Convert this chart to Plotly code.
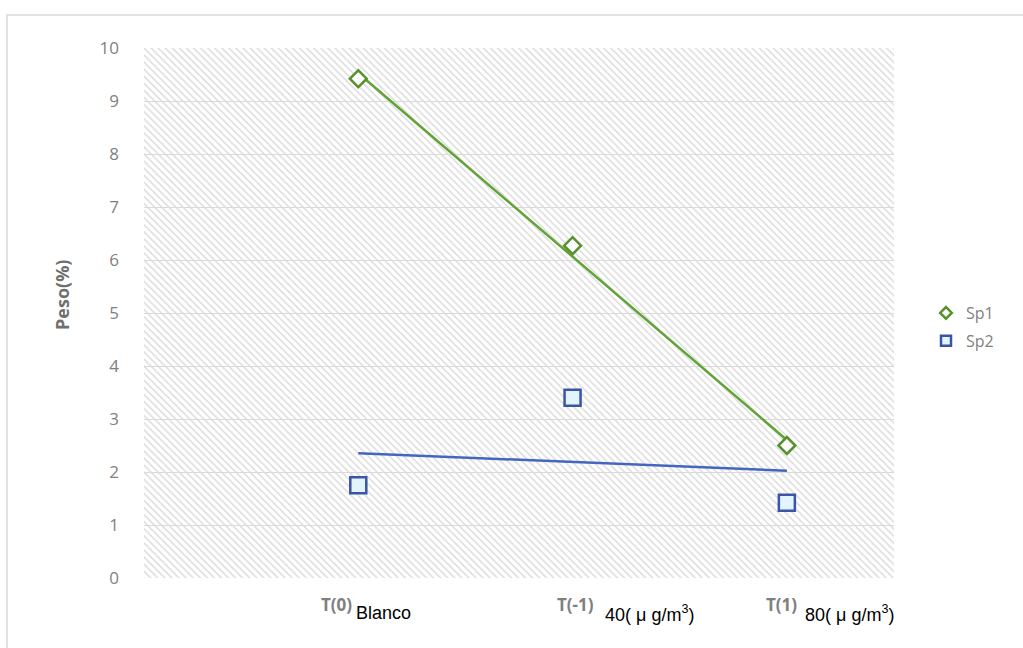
import numpy as np
import plotly.graph_objects as go

# Treatments and their doses
categories = ["T(0)", "T(-1)", "T(1)"]
dose_labels = ["Blanco", "40(\u00a0μ\u00a0g/m<sup>3</sup>)", "80(\u00a0μ\u00a0g/m<sup>3</sup>)"]
x_pos = [1, 2, 3]

# Weight (%) per species
sp1 = [9.42, 6.27, 2.50]
sp2 = [1.75, 3.40, 1.42]

y_ticks = list(range(0, 11))

GREEN = "#62a335"
GREEN_DARK = "#56922c"
BLUE = "#4466c0"
BLUE_DARK = "#3a55a8"
GRAY_TEXT = "#7f7f7f"

# Plot-area geometry (pixels)
W, H = 1023, 648
L, R, T, B = 144, 129, 48, 70
pw, ph = W - L - R, H - T - B
XMAX = 3.5


def px_x(p):
    return (p - L) / pw


def px_y(p):
    return (H - B - p) / ph


fig = go.Figure()

# Hatched plot-area background
fig.add_trace(go.Scatter(
    x=[0, XMAX, XMAX, 0, 0], y=[0, 0, 10, 10, 0],
    mode="lines", line=dict(width=0), fill="toself",
    fillcolor="rgba(0,0,0,0)",
    fillpattern=dict(shape="\\", fgcolor="#dcdcdc", size=5, solidity=0.3,
                     fillmode="replace"),
    hoverinfo="skip", showlegend=False,
))

# Linear trendlines
for vals, col in ((sp1, GREEN), (sp2, BLUE)):
    slope, icpt = np.polyfit(x_pos, vals, 1)
    xs = np.array([x_pos[0], x_pos[-1]], dtype=float)
    fig.add_trace(go.Scatter(
        x=xs, y=slope * xs + icpt, mode="lines",
        line=dict(color=col, width=2.5), hoverinfo="skip", showlegend=False,
    ))

sp1_marker = dict(symbol="diamond", color="white", line=dict(color=GREEN_DARK, width=2.5))
sp2_marker = dict(symbol="square", color="#e2f4ff", line=dict(color=BLUE_DARK, width=2.5))

fig.add_trace(go.Scatter(
    x=x_pos, y=sp1, mode="markers", name="Sp1", showlegend=False,
    marker=dict(size=13, **sp1_marker),
))
fig.add_trace(go.Scatter(
    x=x_pos, y=sp2, mode="markers", name="Sp2", showlegend=False,
    marker=dict(size=16, **sp2_marker),
))

# Legend entries with smaller symbols
fig.add_trace(go.Scatter(
    x=[None], y=[None], mode="markers", name="Sp1", legendgroup="a",
    marker=dict(size=9, **sp1_marker),
))
fig.add_trace(go.Scatter(
    x=[None], y=[None], mode="markers", name="Sp2", legendgroup="b",
    marker=dict(size=10, **sp2_marker),
))

# Category labels under the axis: bold code plus dose text
code_shift = [-22, 3, -5]
dose_shift = [-4, 30, 16]
annotations = []
for xp, cat, dose, cs, ds in zip(x_pos, categories, dose_labels, code_shift, dose_shift):
    annotations.append(dict(
        x=xp, xref="x", y=px_y(604), yref="paper", xshift=cs,
        text="<b>" + cat + "</b>", showarrow=False,
        xanchor="center", yanchor="middle",
        font=dict(family="Noto Sans", size=17, color=GRAY_TEXT),
    ))
    annotations.append(dict(
        x=xp, xref="x", y=px_y(613), yref="paper", xshift=ds,
        text=dose, showarrow=False,
        xanchor="left", yanchor="middle",
        font=dict(family="Liberation Sans, Arial", size=18, color="black"),
    ))

# Y-axis title
annotations.append(dict(
    x=px_x(62), xref="paper", y=px_y(295), yref="paper",
    text="<b>Peso(%)</b>", textangle=-90, showarrow=False,
    xanchor="center", yanchor="middle",
    font=dict(family="Open Sans", size=18, color="#6f6f6f"),
))

fig.update_layout(
    width=W, height=H,
    margin=dict(l=L, r=R, t=T, b=B, autoexpand=False),
    paper_bgcolor="white", plot_bgcolor="white",
    font=dict(family="Open Sans", color=GRAY_TEXT),
    xaxis=dict(range=[0, XMAX], showticklabels=False, showgrid=False,
               zeroline=False, showline=False, ticks=""),
    yaxis=dict(range=[0, 10], tickvals=y_ticks, showgrid=True,
               gridcolor="#d9d9d9", gridwidth=1, zeroline=False,
               showline=False, ticks="", ticklabelstandoff=24,
               tickfont=dict(size=17, color=GRAY_TEXT)),
    legend=dict(x=px_x(926), y=px_y(296), xanchor="left", yanchor="top",
                font=dict(size=16, color=GRAY_TEXT), bgcolor="rgba(0,0,0,0)",
                traceorder="grouped", tracegroupgap=4),
    annotations=annotations,
    shapes=[dict(type="rect", xref="paper", yref="paper",
                 x0=px_x(7), x1=px_x(1030), y0=px_y(660), y1=px_y(15),
                 line=dict(color="#d9d9d9", width=1.5), layer="below")],
)

fig.write_html("out.html")
